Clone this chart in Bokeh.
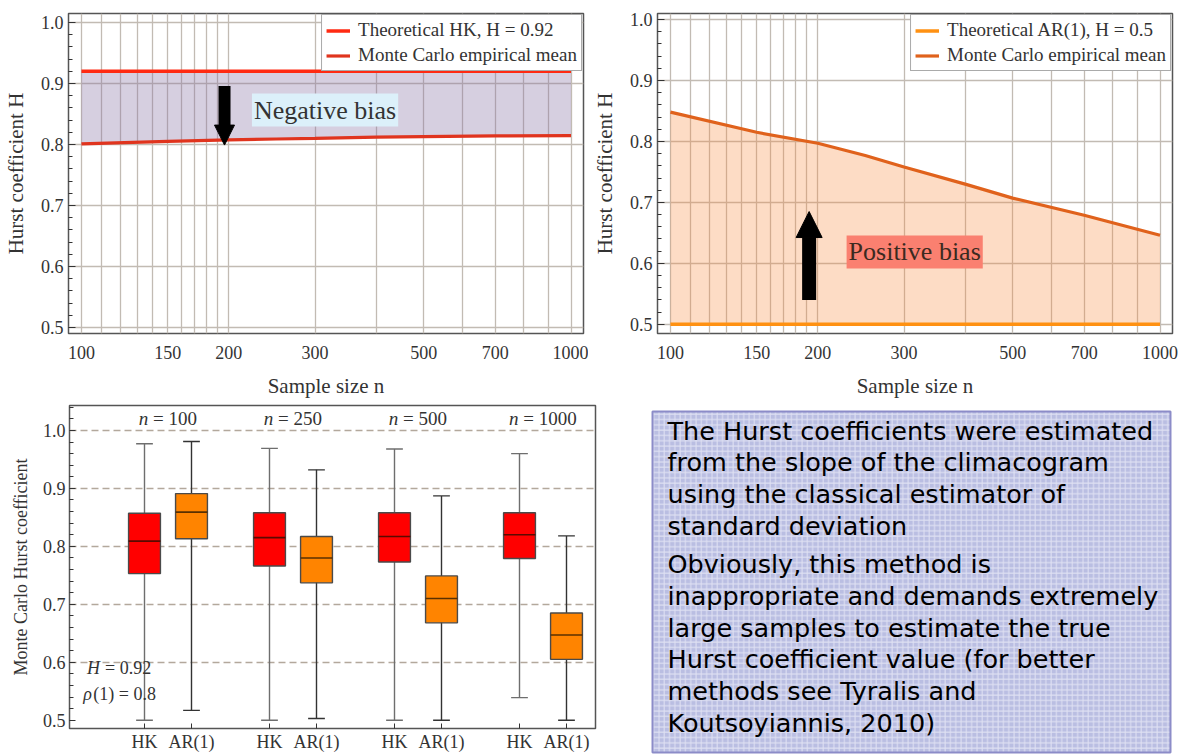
from bokeh.plotting import figure
from bokeh.layouts import row, column
from bokeh.models import (Range1d, FixedTicker, NumeralTickFormatter, Legend, LegendItem,
                          Arrow, NormalHead, Label, CustomJSTickFormatter)
from bokeh.core.properties import value
from bokeh.embed import file_html
from bokeh.resources import INLINE

# ------------------------------------------------------------------ data
sample_sizes = [100, 150, 200, 250, 300, 400, 500, 700, 1000]
hk_theoretical_H = 0.92
hk_mc_mean = [0.801, 0.805, 0.8075, 0.809, 0.810, 0.812, 0.813, 0.814, 0.8146]
ar_theoretical_H = 0.5
ar_mc_mean = [0.848, 0.815, 0.797, 0.777, 0.758, 0.730, 0.707, 0.679, 0.646]

x_tick_values = [100, 150, 200, 300, 500, 700, 1000]
x_grid_values = [100, 110, 120, 130, 140, 150, 160, 170, 180, 190, 200,
                 300, 400, 500, 600, 700, 800, 900, 1000]
y_tick_values = [0.5, 0.6, 0.7, 0.8, 0.9, 1.0]

box_groups = ["100", "250", "500", "1000"]
hk_upper = [0.977, 0.969, 0.968, 0.960]
hk_q3 = [0.857, 0.858, 0.858, 0.858]
hk_median = [0.809, 0.815, 0.817, 0.820]
hk_q1 = [0.753, 0.766, 0.773, 0.779]
hk_lower = [0.500, 0.500, 0.500, 0.539]
ar_upper = [0.981, 0.932, 0.887, 0.818]
ar_q3 = [0.891, 0.817, 0.749, 0.685]
ar_median = [0.859, 0.780, 0.710, 0.647]
ar_q1 = [0.813, 0.737, 0.668, 0.605]
ar_lower = [0.517, 0.503, 0.500, 0.500]

panel_paragraphs = [
    ["The Hurst coefficients were estimated",
     "from the slope of the climacogram",
     "using the classical estimator of",
     "standard deviation"],
    ["Obviously, this method is",
     "inappropriate and demands extremely",
     "large samples to estimate the true",
     "Hurst coefficient value (for better",
     "methods see Tyralis and",
     "Koutsoyiannis, 2010)"],
]

# ------------------------------------------------------------------ styles
SERIF = "Liberation Serif"
TXT = "#333333"
FRAME = "#555555"
GRID = "#c2bbb3"
minor_y = [round(0.48 + 0.02 * k, 2) for k in range(28)]


def hurst_panel(width, height, b_top, b_bottom, b_left, b_right, yr):
    p = figure(width=width, height=height, x_axis_type="log",
               x_range=Range1d(94.1, 1060.5), y_range=Range1d(*yr),
               output_backend="svg", toolbar_location=None,
               min_border_top=b_top, min_border_bottom=b_bottom,
               min_border_left=b_left, min_border_right=b_right)
    p.background_fill_color = "white"
    p.border_fill_color = "white"
    p.outline_line_color = FRAME
    p.outline_line_width = 1.5
    p.xaxis.ticker = FixedTicker(ticks=x_tick_values, minor_ticks=[])
    p.xaxis.formatter = NumeralTickFormatter(format="0")
    p.xaxis.major_tick_line_color = None
    p.xaxis.minor_tick_line_color = None
    p.xaxis.axis_line_color = None
    p.xaxis.major_label_standoff = 6
    p.xaxis.axis_label = "Sample size n"
    p.xaxis.axis_label_standoff = 12
    p.xgrid.ticker = FixedTicker(ticks=x_grid_values)
    p.yaxis.ticker = FixedTicker(ticks=y_tick_values, minor_ticks=minor_y)
    p.yaxis.formatter = NumeralTickFormatter(format="0.0")
    p.yaxis.axis_line_color = None
    p.yaxis.major_tick_in = 7
    p.yaxis.major_tick_out = 0
    p.yaxis.minor_tick_in = 4
    p.yaxis.minor_tick_out = 0
    p.yaxis.major_tick_line_color = "#333333"
    p.yaxis.minor_tick_line_color = "#333333"
    p.yaxis.major_label_standoff = 5
    p.yaxis.axis_label = "Hurst coefficient H"
    p.yaxis.axis_label_standoff = 10
    for ax in (p.xaxis, p.yaxis):
        ax.major_label_text_font = SERIF
        ax.major_label_text_font_size = "18px"
        ax.major_label_text_color = TXT
        ax.axis_label_text_font = SERIF
        ax.axis_label_text_font_size = "21px"
        ax.axis_label_text_font_style = "normal"
        ax.axis_label_text_color = TXT
    p.grid.grid_line_color = GRID
    p.grid.grid_line_width = 1.3
    return p


def add_legend(p, items):
    lg = Legend(items=items, location="top_right", margin=1, padding=4, spacing=3,
                glyph_width=24, glyph_height=19, label_height=19, label_standoff=8,
                label_text_font=SERIF, label_text_font_size="19px", label_text_color=TXT,
                border_line_color=FRAME, border_line_width=1.2,
                background_fill_color="white", background_fill_alpha=1.0)
    p.add_layout(lg)


# ------------------------------------------------------------------ top-left
p1 = hurst_panel(588, 400, 13, 64, 68, 5, (0.4903, 1.0146))
hk_theo = [hk_theoretical_H for _ in sample_sizes]
p1.varea(x=sample_sizes, y1=hk_mc_mean, y2=hk_theo, fill_color="#8a76a6", fill_alpha=0.35)
r_hk_t = p1.line(sample_sizes, hk_theo, line_color="#ff2a12", line_width=3.5)
r_hk_m = p1.line(sample_sizes, hk_mc_mean, line_color="#e0341e", line_width=3.2)
add_legend(p1, [LegendItem(label="Theoretical HK, H = 0.92", renderers=[r_hk_t]),
                LegendItem(label="Monte Carlo empirical mean", renderers=[r_hk_m])])
p1.add_layout(Arrow(end=NormalHead(size=20, fill_color="black", line_color="black"),
                    x_start=196, y_start=0.896, x_end=196, y_end=0.799,
                    line_width=12, line_color="black"))
p1.add_layout(Label(x=223, y=0.8563, text="Negative bias", text_font=SERIF,
                    text_font_size="26px", text_color="#333333", text_baseline="middle",
                    text_align="left", background_fill_color="#dcf0fa", padding=2))

# ------------------------------------------------------------------ top-right
p2 = hurst_panel(597, 400, 13, 64, 69, 13, (0.4849, 1.0099))
ar_theo = [ar_theoretical_H for _ in sample_sizes]
p2.varea(x=sample_sizes, y1=ar_theo, y2=ar_mc_mean, fill_color="#f98a3e", fill_alpha=0.3)
r_ar_t = p2.line(sample_sizes, ar_theo, line_color="#ff9112", line_width=3.5)
r_ar_m = p2.line(sample_sizes, ar_mc_mean, line_color="#e0621c", line_width=3.2)
add_legend(p2, [LegendItem(label="Theoretical AR(1), H = 0.5", renderers=[r_ar_t]),
                LegendItem(label="Monte Carlo empirical mean", renderers=[r_ar_m])])
p2.add_layout(Arrow(end=NormalHead(size=26, fill_color="black", line_color="black"),
                    x_start=192, y_start=0.540, x_end=192, y_end=0.685,
                    line_width=14, line_color="black"))
p2.add_layout(Label(x=229, y=0.6187, text="Positive bias", text_font=SERIF,
                    text_font_size="26px", text_color="#3a2a20", text_baseline="middle",
                    text_align="left", background_fill_color="#fa8070", padding=2))

# ------------------------------------------------------------------ bottom-left (box plots)
AR_SHIFT = 0.376
BOX_W = 0.255
CAP_W = 0.134
hk_x = [float(i) for i in range(len(box_groups))]
ar_x = [i + AR_SHIFT for i in hk_x]

p3 = figure(width=597, height=354, x_range=Range1d(-0.6, 3.608), y_range=Range1d(0.4857, 1.043),
            output_backend="svg", toolbar_location=None,
            min_border_top=5, min_border_bottom=22, min_border_left=69, min_border_right=2)
p3.background_fill_color = "white"
p3.border_fill_color = "white"
p3.outline_line_color = FRAME
p3.outline_line_width = 1.5
p3.xgrid.visible = False
p3.ygrid.ticker = FixedTicker(ticks=[0.6, 0.7, 0.8, 0.9, 1.0])
p3.ygrid.grid_line_color = "#b3a89c"
p3.ygrid.grid_line_dash = "7 4"
p3.ygrid.grid_line_width = 1.3
p3.yaxis.ticker = FixedTicker(ticks=y_tick_values, minor_ticks=[round(0.5 + 0.02 * k, 2) for k in range(28)])
p3.yaxis.formatter = NumeralTickFormatter(format="0.0")
p3.yaxis.axis_line_color = None
p3.yaxis.major_tick_in = 6
p3.yaxis.major_tick_out = 0
p3.yaxis.minor_tick_in = 4
p3.yaxis.minor_tick_out = 0
p3.yaxis.major_tick_line_color = "#333333"
p3.yaxis.minor_tick_line_color = "#333333"
p3.yaxis.major_label_standoff = 4
p3.yaxis.axis_label = "Monte Carlo Hurst coefficient"
p3.yaxis.axis_label_standoff = 9
p3.xaxis.ticker = FixedTicker(ticks=sorted(hk_x + ar_x), minor_ticks=[])
p3.xaxis.formatter = CustomJSTickFormatter(
    code="return (tick - Math.floor(tick + 1e-9)) > 0.1 ? 'AR(1)' : 'HK';")
p3.xaxis.axis_line_color = None
p3.xaxis.major_tick_in = 5
p3.xaxis.major_tick_out = 0
p3.xaxis.major_tick_line_color = "#333333"
p3.xaxis.minor_tick_line_color = None
p3.xaxis.major_label_standoff = 3
for ax in (p3.xaxis, p3.yaxis):
    ax.major_label_text_font = SERIF
    ax.major_label_text_font_size = "18px"
    ax.major_label_text_color = TXT
    ax.axis_label_text_font = SERIF
    ax.axis_label_text_font_size = "18px"
    ax.axis_label_text_font_style = "normal"
    ax.axis_label_text_color = TXT


def draw_boxes(xs, lo, q1, med, q3, hi, fill, med_color, wh_color):
    p3.segment(x0=xs, y0=lo, x1=xs, y1=hi, line_color=wh_color, line_width=1.4)
    p3.segment(x0=[x - CAP_W / 2 for x in xs], y0=lo, x1=[x + CAP_W / 2 for x in xs], y1=lo,
               line_color=wh_color, line_width=1.4)
    p3.segment(x0=[x - CAP_W / 2 for x in xs], y0=hi, x1=[x + CAP_W / 2 for x in xs], y1=hi,
               line_color=wh_color, line_width=1.4)
    p3.vbar(x=xs, width=BOX_W, bottom=q1, top=q3, fill_color=fill,
            line_color="#4a4a4a", line_width=1.4)
    p3.segment(x0=[x - BOX_W / 2 for x in xs], y0=med, x1=[x + BOX_W / 2 for x in xs], y1=med,
               line_color=med_color, line_width=1.6)


draw_boxes(hk_x, hk_lower, hk_q1, hk_median, hk_q3, hk_upper, "#ff0000", "#5a0a00", "#6e6e6e")
draw_boxes(ar_x, ar_lower, ar_q1, ar_median, ar_q3, ar_upper, "#ff8400", "#5a3000", "#333333")

# group labels "n = ..."
GROUP_LABEL_Y = 1.0205
for gx, g in zip(hk_x, box_groups):
    mid = gx + AR_SHIFT / 2
    rest = "= " + g
    rest_w = 10.8 + 4.75 + 9.5 * len(g)
    total = 9.5 + 4.75 + rest_w
    p3.text(x=[mid], y=[GROUP_LABEL_Y], text=["n"], text_font=value(SERIF),
            text_font_size="19px", text_font_style="italic", text_color=TXT,
            text_align="right", text_baseline="middle", x_offset=-total / 2 + 9.5)
    p3.text(x=[mid], y=[GROUP_LABEL_Y], text=[rest], text_font=value(SERIF),
            text_font_size="19px", text_color=TXT,
            text_align="left", text_baseline="middle", x_offset=-total / 2 + 14.25)

NOTE_X = -0.46
p3.text(x=[NOTE_X], y=[0.5896], text=["H"], text_font=value(SERIF), text_font_size="18px",
        text_font_style="italic", text_color=TXT, text_align="left", text_baseline="middle")
p3.text(x=[NOTE_X], y=[0.5896], text=["= 0.92"], text_font=value(SERIF), text_font_size="18px",
        text_color=TXT, text_align="left", text_baseline="middle", x_offset=18)
p3.text(x=[NOTE_X - 0.03], y=[0.5454], text=["ρ"], text_font=value(SERIF), text_font_size="18px",
        text_font_style="italic", text_color=TXT, text_align="left", text_baseline="middle")
p3.text(x=[NOTE_X - 0.03], y=[0.5454], text=["(1) = 0.8"], text_font=value(SERIF),
        text_font_size="18px", text_color=TXT, text_align="left", text_baseline="middle",
        x_offset=10)

# ------------------------------------------------------------------ bottom-right text panel
PW, PH = 588, 354
p4 = figure(width=PW, height=PH, x_range=Range1d(0, PW), y_range=Range1d(PH, 0),
            output_backend="svg", toolbar_location=None, min_border=0,
            x_axis_location=None, y_axis_location=None)
p4.grid.visible = False
p4.outline_line_color = None
p4.background_fill_color = "white"
p4.border_fill_color = "white"
p4.quad(left=[55], right=[573], top=[11], bottom=[352], fill_color="#babee2",
        line_color="#8c8cc8", line_width=2,
        hatch_pattern="+", hatch_scale=5.3, hatch_weight=1, hatch_color="#e6e8f6", hatch_alpha=0.85)
LINE_H = 31.7
PARA_GAP = 7
text_y, text_lines = [], []
y_cur = 30
for para in panel_paragraphs:
    for line in para:
        text_lines.append(line)
        text_y.append(y_cur)
        y_cur += LINE_H
    y_cur += PARA_GAP
p4.text(x=[70] * len(text_lines), y=text_y, text=text_lines, text_font=value("DejaVu Sans"),
        text_font_size="25.5px", text_color="#000000", text_align="left", text_baseline="middle")

layout = column(row(column(p1), column(p2)), row(column(p3), column(p4)))
open("out.html", "w").write(file_html(layout, INLINE))
